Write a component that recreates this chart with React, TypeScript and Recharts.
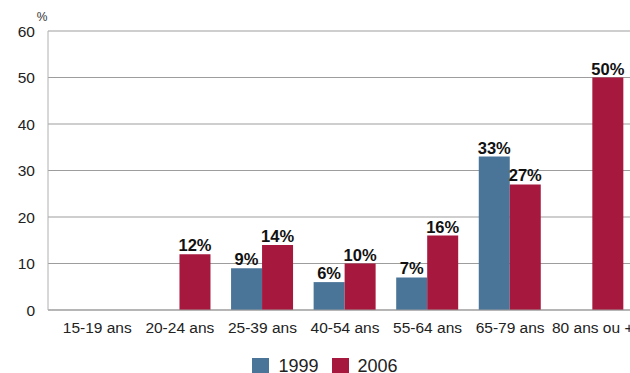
import React from 'react';
import {
    BarChart,
    Bar,
    XAxis,
    YAxis,
    CartesianGrid,
    Legend,
    LabelList,
} from 'recharts';

const ageGroups = ['15-19 ans', '20-24 ans', '25-39 ans', '40-54 ans', '55-64 ans', '65-79 ans', '80 ans ou +'];
const values1999: (number | null)[] = [null, null, 9, 6, 7, 33, null];
const values2006: (number | null)[] = [null, 12, 14, 10, 16, 27, 50];
const yTicks = [0, 10, 20, 30, 40, 50, 60];

const COLOR_1999 = '#4a7598';
const COLOR_2006 = '#a6183d';
const FONT = '"Liberation Sans", Arial, sans-serif';

const data = ageGroups.map((group, i) => ({
    group,
    y1999: values1999[i],
    y2006: values2006[i],
}));

const series = [
    { key: 'y1999', name: '1999', color: COLOR_1999 },
    { key: 'y2006', name: '2006', color: COLOR_2006 },
];

const pctLabel = (v: unknown) => (v === null || v === undefined ? '' : `${v}%`);

// legend sits a little right of the chart centre and hangs near the bottom edge
const LegendContent: React.FC = () => (
    <div
        style={{
            display: 'flex',
            justifyContent: 'center',
            gap: '13px',
            paddingLeft: '16px',
            paddingTop: '9px',
            fontFamily: FONT,
            fontSize: '18px',
            color: '#222',
            lineHeight: '18px',
        }}
    >
        {series.map((s) => (
            <div key={s.key} style={{ display: 'flex', alignItems: 'center', gap: '9px' }}>
                <div style={{ width: '17px', height: '17px', backgroundColor: s.color }} />
                <span>{s.name}</span>
            </div>
        ))}
    </div>
);

const App: React.FC = () => {
    return (
        <div style={{ position: 'fixed', left: 0, top: 0, width: 630, height: 373, overflow: 'hidden', background: '#fff' }}>
            <BarChart
                width={634}
                height={373}
                data={data}
                margin={{ top: 31, right: 0, left: 0, bottom: 0 }}
                barCategoryGap="12%"
                barGap={0}
            >
                <CartesianGrid vertical={false} stroke="#9d9d9d" strokeWidth={1} />
                <XAxis
                    dataKey="group"
                    padding={{ left: 8, right: 0 }}
                    tickLine={false}
                    tickSize={0}
                    tickMargin={12}
                    height={38}
                    stroke="#9d9d9d"
                    interval={0}
                    tick={{ fill: '#222', fontSize: 15.5, fontFamily: FONT }}
                />
                <YAxis
                    domain={[0, 60]}
                    ticks={yTicks}
                    width={48}
                    tickLine={false}
                    tickSize={0}
                    tickMargin={13}
                    stroke="#b0b0b0"
                    tick={{ fill: '#222', fontSize: 15.5, fontFamily: FONT }}
                    label={{ value: '%', position: 'top', offset: 10, dx: 18, fill: '#333', fontSize: 12, fontFamily: FONT }}
                />
                <Legend verticalAlign="bottom" height={25} content={<LegendContent />} />
                {series.map((s) => (
                    <Bar key={s.key} dataKey={s.key} name={s.name} fill={s.color} isAnimationActive={false}>
                        <LabelList
                            dataKey={s.key}
                            position="top"
                            offset={3}
                            formatter={pctLabel}
                            style={{ fill: '#111', fontWeight: 700, fontSize: 16.5, fontFamily: FONT }}
                        />
                    </Bar>
                ))}
            </BarChart>
        </div>
    );
};

export default App;
